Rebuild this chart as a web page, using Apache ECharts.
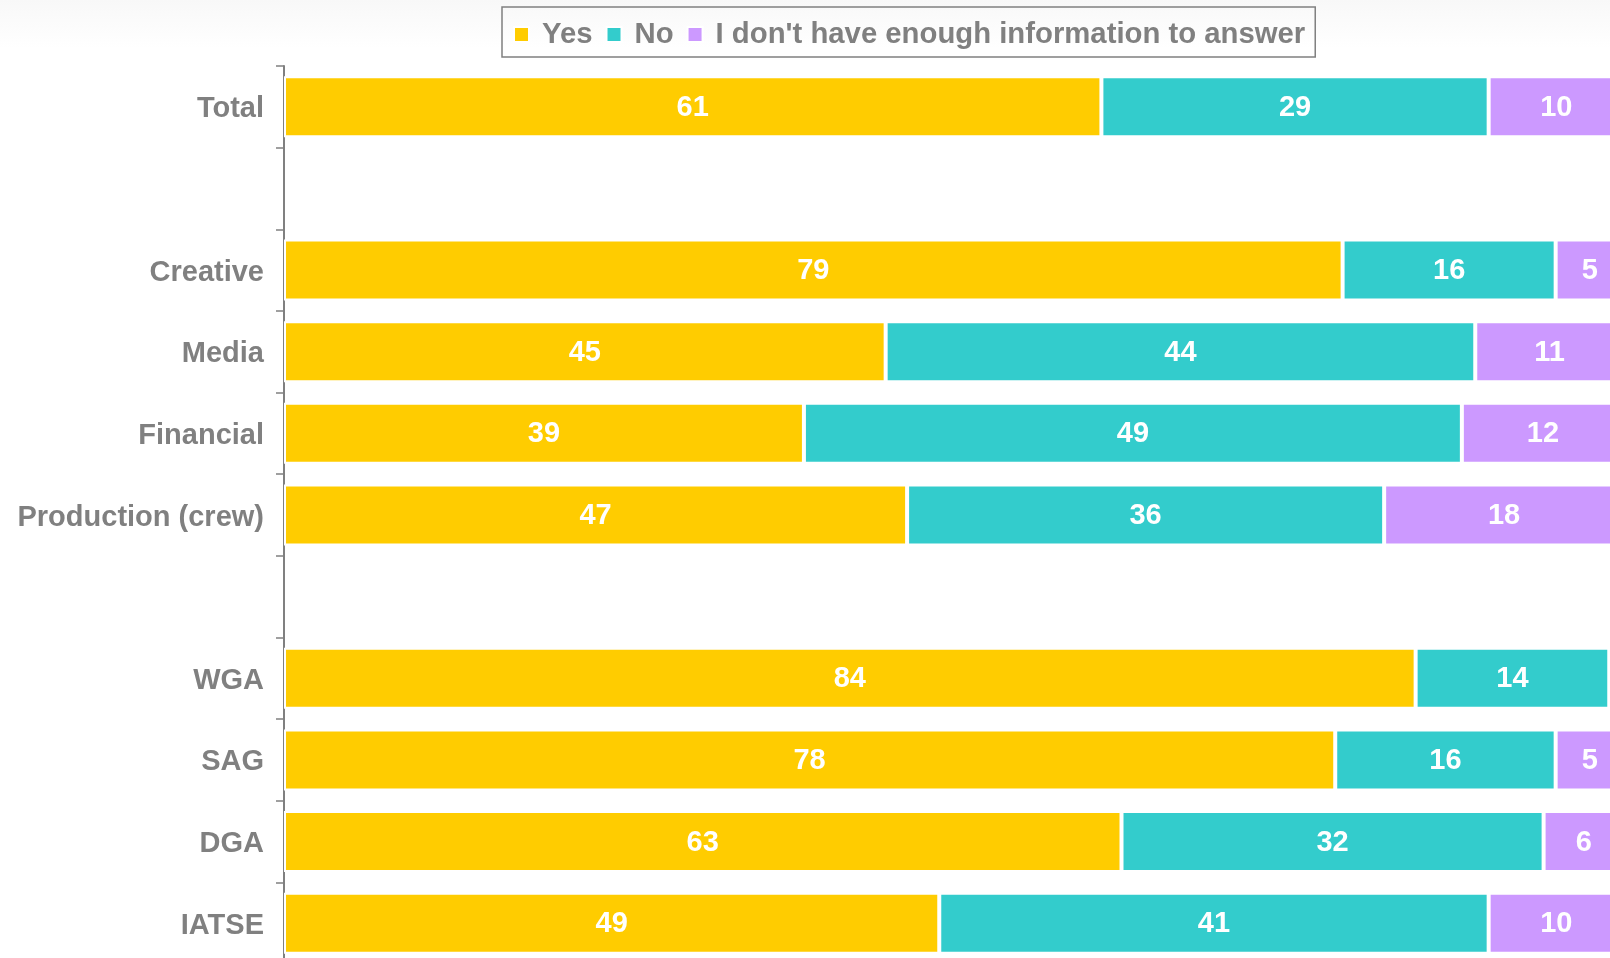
<!DOCTYPE html>
<html>
<head>
<meta charset="utf-8">
<script src="https://cdn.jsdelivr.net/npm/echarts@6/dist/echarts.min.js"></script>
<style>
html,body{margin:0;padding:0;background:#fff;overflow:hidden;width:1610px;height:958px;}
#chart{width:1624px;height:964px;}
</style>
</head>
<body>
<div id="chart"></div>
<script>
const categories = ['Total', ' ', 'Creative', 'Media', 'Financial', 'Production (crew)', '  ', 'WGA', 'SAG', 'DGA', 'IATSE'];
const seriesNames = ['Yes', 'No', "I don't have enough information to answer"];
const yesValues = [61.0, null, 79.0, 44.9, 38.8, 46.5, null, 84.45, 78.45, 62.5, 48.9];
const noValues = [28.9, null, 15.9, 44.0, 49.1, 35.6, null, 14.45, 16.45, 31.5, 41.0];
const dkValues = [10.1, null, 5.1, 11.1, 12.1, 17.9, null, 1.1, 5.1, 6.0, 10.1];
const colors = ['#FFCC00', '#33CCCC', '#CC99FF'];

const FONT = 'Liberation Sans, Arial, sans-serif';
const GRAY = '#808080';

const chart = echarts.init(document.getElementById('chart'), null, {renderer: 'canvas'});

function makeSeries(name, values, color) {
  return {
    name: name,
    type: 'bar',
    stack: 'total',
    data: values,
    barWidth: 61,
    itemStyle: {color: color, borderColor: '#ffffff', borderWidth: 2},
    label: {
      show: true,
      position: 'inside',
      offset: [0, 1],
      color: '#ffffff',
      fontFamily: FONT,
      fontWeight: 'bold',
      fontSize: 29,
      formatter: function (p) {
        if (p.value == null || p.value < 2) return '';
        return String(Math.round(p.value));
      }
    },
    emphasis: {disabled: true}
  };
}

chart.setOption({
  animation: false,
  backgroundColor: '#ffffff',
  color: colors,
  graphic: [{
    type: 'rect',
    left: 0, top: 0, z: -10,
    shape: {width: 1624, height: 48},
    style: {
      fill: new echarts.graphic.LinearGradient(0, 0, 0, 1, [
        {offset: 0, color: '#f8f8f8'},
        {offset: 1, color: '#ffffff'}
      ])
    }
  }],
  legend: {
    left: 502,
    top: 7,
    orient: 'horizontal',
    icon: 'rect',
    itemWidth: 15,
    itemHeight: 15,
    itemGap: 13,
    padding: [13, 10, 8, 11],
    borderColor: GRAY,
    borderWidth: 1.5,
    data: seriesNames,
    textStyle: {
      color: GRAY,
      fontFamily: FONT,
      fontWeight: 'bold',
      fontSize: 29.3,
      padding: [0, 0, 0, 8]
    }
  },
  grid: {
    left: 284,
    right: 0,
    top: 66,
    bottom: 0,
    containLabel: false
  },
  xAxis: {
    type: 'value',
    min: 0,
    max: 100,
    show: false
  },
  yAxis: {
    type: 'category',
    inverse: true,
    data: categories,
    axisLine: {show: true, lineStyle: {color: GRAY, width: 2}},
    axisTick: {show: true, length: 8, lineStyle: {color: GRAY, width: 1.5}},
    axisLabel: {
      color: GRAY,
      fontFamily: FONT,
      fontWeight: 'bold',
      fontSize: 29,
      margin: 20,
      formatter: function (v) { return '{a|' + v + '}'; },
      rich: {
        a: {
          color: GRAY,
          fontFamily: FONT,
          fontWeight: 'bold',
          fontSize: 29,
          padding: [5, 0, 0, 0]
        }
      }
    },
    splitLine: {show: false}
  },
  series: [
    makeSeries(seriesNames[0], yesValues, colors[0]),
    makeSeries(seriesNames[1], noValues, colors[1]),
    makeSeries(seriesNames[2], dkValues, colors[2])
  ]
});
</script>
</body>
</html>
